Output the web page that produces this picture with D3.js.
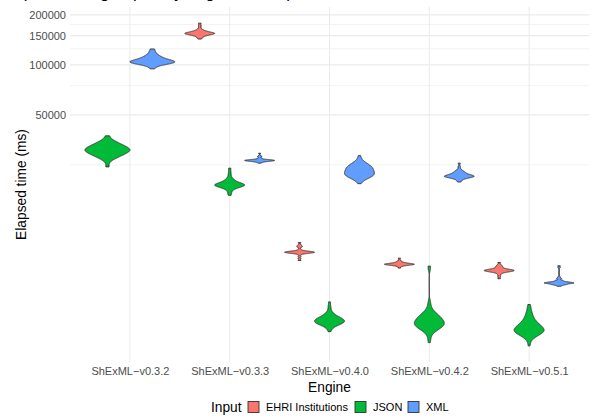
<!DOCTYPE html>
<html>
<head>
<meta charset="utf-8">
<script src="https://cdn.jsdelivr.net/npm/d3@7"></script>
<style>
  body { margin: 0; background: #fff; }
  svg { display: block; font-family: "Liberation Sans", Arial, sans-serif; }
</style>
</head>
<body>
<div id="chart"></div>
<script>
// Engines on the x axis, inputs as fill groups
const engines = ["ShExML−v0.3.2", "ShExML−v0.3.3", "ShExML−v0.4.0", "ShExML−v0.4.2", "ShExML−v0.5.1"];
const inputs = ["EHRI Institutions", "JSON", "XML"];
const colours = ["#F8766D", "#00BA38", "#619CFF"];

const yBreaks = [50000, 100000, 150000, 200000];
const yMinorBreaks = [25000, 75000, 125000, 175000];

// elapsed times (ms), as [time, number of runs]
const jsonV032 = [[37400, 1], [35800, 1], [34800, 2], [33800, 3], [32900, 4], [32000, 5], [31150, 6], [30300, 6], [29500, 5], [28700, 4], [27900, 3], [27100, 2], [26000, 1], [24300, 1]];
const xmlV032 = [[124700, 1], [120100, 1], [116800, 1], [113700, 2], [110600, 3], [107600, 4], [104600, 8], [102500, 5], [100400, 2], [98360, 1], [94640, 1]];

const ehriV033 = [[178400, 1], [171900, 1], [166100, 1], [161600, 2], [158300, 4], [155000, 9], [151900, 5], [148750, 2], [145700, 1], [143100, 1]];
const jsonV033 = [[23880, 1], [22700, 1], [21780, 1], [21040, 1], [20470, 2], [19910, 3], [19370, 6], [18840, 10], [18330, 5], [17830, 2], [17350, 1], [16880, 1], [16375, 1]];
const xmlV033 = [[29370, 1], [28490, 1], [27980, 2], [27340, 2], [26850, 6], [26560, 10], [26270, 6], [25940, 2], [25590, 1]];

const ehriV040 = [[8502, 1], [8248, 1], [8079, 2], [7914, 1], [7698, 1], [7562, 3], [7479, 6], [7397, 6], [7316, 3], [7187, 1], [6991, 1], [6801, 1], [6635, 1]];
const jsonV040 = [[3736, 1], [3536, 1], [3393, 1], [3278, 1], [3189, 2], [3102, 3], [3018, 5], [2936, 7], [2856, 8], [2778, 7], [2703, 4], [2629, 2], [2558, 1], [2472, 1]];
const xmlV040 = [[28425, 1], [27160, 1], [26240, 2], [25530, 3], [24840, 5], [24160, 6], [23505, 6], [22866, 6], [22245, 7], [21640, 7], [21051, 5], [20480, 3], [19923, 1], [19250, 1]];

const ehriV042 = [[6851, 1], [6664, 1], [6528, 2], [6412, 4], [6324, 8], [6255, 7], [6178, 3], [6094, 1], [5969, 1]];
const jsonV042 = [[6136, 1], [5888, 1], [3762, 1], [3585, 1], [3440, 1], [3324, 2], [3211, 3], [3103, 5], [2997, 6], [2896, 7], [2798, 8], [2703, 8], [2612, 6], [2523, 4], [2438, 2], [2339, 1], [2245, 1], [2124, 1]];
const xmlV042 = [[25590, 1], [24320, 1], [23500, 1], [23020, 2], [22550, 3], [22090, 4], [21635, 6], [21280, 8], [20900, 5], [20475, 2], [20055, 1], [19700, 1]];

const ehriV051 = [[6456, 1], [6263, 1], [6135, 2], [6009, 2], [5887, 4], [5790, 8], [5695, 6], [5587, 2], [5457, 1], [5308, 1], [5150, 1]];
const jsonV051 = [[3601, 1], [3441, 1], [3301, 1], [3168, 2], [3039, 2], [2917, 3], [2798, 4], [2704, 5], [2612, 6], [2524, 8], [2438, 7], [2356, 4], [2276, 2], [2184, 1], [2030, 1]];
const xmlV051 = [[6162, 1], [6027, 1], [5274, 1], [5166, 2], [5025, 3], [4922, 6], [4850, 10], [4769, 5], [4704, 2], [4639, 1]];

const runs = [
  { engine: engines[0], input: inputs[1], times: jsonV032 },
  { engine: engines[0], input: inputs[2], times: xmlV032 },
  { engine: engines[1], input: inputs[0], times: ehriV033 },
  { engine: engines[1], input: inputs[1], times: jsonV033 },
  { engine: engines[1], input: inputs[2], times: xmlV033 },
  { engine: engines[2], input: inputs[0], times: ehriV040 },
  { engine: engines[2], input: inputs[1], times: jsonV040 },
  { engine: engines[2], input: inputs[2], times: xmlV040 },
  { engine: engines[3], input: inputs[0], times: ehriV042 },
  { engine: engines[3], input: inputs[1], times: jsonV042 },
  { engine: engines[3], input: inputs[2], times: xmlV042 },
  { engine: engines[4], input: inputs[0], times: ehriV051 },
  { engine: engines[4], input: inputs[1], times: jsonV051 },
  { engine: engines[4], input: inputs[2], times: xmlV051 }
].map(r => ({ ...r, samples: r.times.flatMap(([t, c]) => Array(c).fill(t)) }));

const width = 602;
const height = 420;
const panel = { left: 70, right: 589, top: 7, bottom: 362 };

const svg = d3.select('#chart')
  .append('svg')
  .attr('width', width)
  .attr('height', height);

// title sits mostly above the visible area
svg.append('text')
  .attr('x', 0)
  .attr('y', -2)
  .attr('font-size', 16.5)
  .attr('fill', '#000')
  .text('Elapsed time grouped by engine and input');

const x = d3.scalePoint()
  .domain(engines)
  .range([panel.left, panel.right])
  .padding(0.6);

// log scale, 5% expansion on the transformed range like ggplot
const allLogs = runs.flatMap(r => r.samples.map(t => Math.log10(t)));
const [lo, hi] = d3.extent(allLogs);
const pad = (hi - lo) * 0.05;
const y = d3.scaleLog()
  .domain([10 ** (lo - pad), 10 ** (hi + pad)])
  .range([panel.bottom, panel.top]);

const color = d3.scaleOrdinal().domain(inputs).range(colours);

// grid
const grid = svg.append('g');
grid.selectAll('.minor')
  .data(yMinorBreaks)
  .join('line')
  .attr('x1', panel.left).attr('x2', panel.right)
  .attr('y1', d => y(d)).attr('y2', d => y(d))
  .attr('stroke', '#EBEBEB')
  .attr('stroke-width', 0.6);
grid.selectAll('.major')
  .data(yBreaks)
  .join('line')
  .attr('x1', panel.left).attr('x2', panel.right)
  .attr('y1', d => y(d)).attr('y2', d => y(d))
  .attr('stroke', '#EBEBEB')
  .attr('stroke-width', 1.07);
grid.selectAll('.vmajor')
  .data(engines)
  .join('line')
  .attr('x1', d => x(d)).attr('x2', d => x(d))
  .attr('y1', panel.top).attr('y2', panel.bottom)
  .attr('stroke', '#EBEBEB')
  .attr('stroke-width', 1.07);

// axes (no lines, only labels)
const yAxis = svg.append('g')
  .attr('transform', `translate(${panel.left - 3},0)`)
  .call(d3.axisLeft(y).tickValues(yBreaks).tickFormat(d3.format('d')).tickSize(0).tickPadding(1));
yAxis.select('.domain').remove();
yAxis.selectAll('text')
  .attr('font-family', '"Liberation Sans", Arial, sans-serif')
  .attr('font-size', 11)
  .attr('fill', '#4D4D4D');

const xAxis = svg.append('g')
  .attr('transform', `translate(0,${panel.bottom})`)
  .call(d3.axisBottom(x).tickSize(0).tickPadding(5));
xAxis.select('.domain').remove();
xAxis.selectAll('text')
  .attr('font-family', '"Liberation Sans", Arial, sans-serif')
  .attr('font-size', 11)
  .attr('fill', '#4D4D4D');

svg.append('text')
  .attr('x', (panel.left + panel.right) / 2)
  .attr('y', 392)
  .attr('text-anchor', 'middle')
  .attr('font-size', 13.75)
  .text('Engine');

svg.append('text')
  .attr('transform', `translate(25.5,${(panel.top + panel.bottom) / 2}) rotate(-90)`)
  .attr('text-anchor', 'middle')
  .attr('font-size', 13.75)
  .text('Elapsed time (ms)');

// kernel density like R's density(bw = "nrd0"), on the log10 scale, trimmed
function bwNrd0(v) {
  const sd = d3.deviation(v);
  const iqr = d3.quantile(v, 0.75) - d3.quantile(v, 0.25);
  let l = Math.min(sd, iqr / 1.34);
  if (!l) l = sd || Math.abs(v[0]) || 1;
  return 0.9 * l * Math.pow(v.length, -0.2);
}

function violinPoints(samples) {
  const v = samples.map(t => Math.log10(t)).sort(d3.ascending);
  const bw = bwNrd0(v);
  const [mn, mx] = d3.extent(v);
  const pts = d3.range(512).map(i => {
    const t = mn + (mx - mn) * i / 511;
    const dens = d3.sum(v, xi => Math.exp(-0.5 * ((t - xi) / bw) ** 2)) / (v.length * bw * Math.sqrt(2 * Math.PI));
    return { t, dens };
  });
  const maxD = d3.max(pts, p => p.dens);
  pts.forEach(p => { p.w = p.dens / maxD; });
  return pts;
}

const step = x.step();
const violins = svg.append('g');

engines.forEach(engine => {
  const group = runs.filter(r => r.engine === engine);
  const n = group.length;
  const slot = step * 0.9 / n;
  group.forEach((r, i) => {
    const cx = x(engine) + (i - (n - 1) / 2) * slot;
    const pts = violinPoints(r.samples);
    const area = d3.area()
      .x0(p => cx - p.w * slot / 2)
      .x1(p => cx + p.w * slot / 2)
      .y(p => y(10 ** p.t));
    violins.append('path')
      .attr('d', area(pts))
      .attr('fill', color(r.input))
      .attr('stroke', '#333333')
      .attr('stroke-width', 0.9)
      .attr('stroke-linejoin', 'round');
  });
});

// legend at the bottom
const legend = svg.append('g').attr('transform', 'translate(0,407)');
legend.append('text')
  .attr('x', 211)
  .attr('y', 5)
  .attr('font-size', 13.75)
  .text('Input');

const keyX = [248, 355, 408];
inputs.forEach((inp, i) => {
  legend.append('rect')
    .attr('x', keyX[i]).attr('y', -5.5)
    .attr('width', 11).attr('height', 11)
    .attr('fill', color(inp))
    .attr('stroke', '#333333')
    .attr('stroke-width', 0.9);
  legend.append('text')
    .attr('x', keyX[i] + 18)
    .attr('y', 4)
    .attr('font-size', 11)
    .text(inp);
});
</script>
</body>
</html>
